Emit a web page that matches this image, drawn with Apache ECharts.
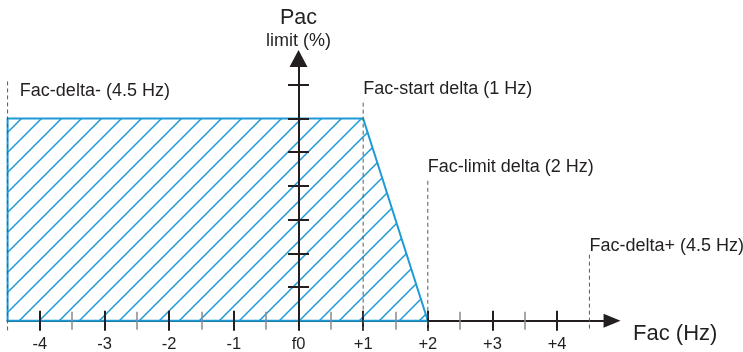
<!DOCTYPE html>
<html><head><meta charset="utf-8">
<script src="https://cdn.jsdelivr.net/npm/echarts@6/dist/echarts.min.js"></script>
<style>html,body{margin:0;padding:0;background:#fff}#c{width:743px;height:352px}</style>
</head><body><div id="c"></div>
<script>
// ---- data ----
const tickValues = [-4, -3, -2, -1, 0, 1, 2, 3, 4];
const tickLabels = ['-4', '-3', '-2', '-1', 'f0', '+1', '+2', '+3', '+4'];
const minorTickValues = [-3.5, -2.5, -1.5, -0.5, 0.5, 1.5, 2.5, 3.5];
const yTickValues = [1, 2, 3, 4, 5, 6, 7];
const regionX = [-4.5, -4.5, 1, 2];
const regionY = [0, 6, 6, 0];
const guideX = [-4.5, 1, 2, 4.5];
const guideTop = [7.1, 6.47, 4.15, 1.96];
const labelTexts = ['Fac-delta- (4.5 Hz)', 'Fac-start delta (1 Hz)', 'Fac-limit delta (2 Hz)', 'Fac-delta+ (4.5 Hz)'];
const labelX = [-4.31, 1, 2, 4.5];
const labelY = [6.64, 6.70, 4.38, 2.04];
const xName = 'Fac (Hz)';
const yNameTop = 'Pac';
const yNameBottom = 'limit (%)';

// ---- style ----
const AX = '#231f20';
const BLUE = '#1e9ad6';
const GUIDE = '#5a5a5a';
const FONT = "'Liberation Sans', Arial, sans-serif";
const X_MIN = -4.5, X_MAX = 4.85, Y_MIN = 0, Y_MAX = 7.78;

function hatchCanvas(color) {
  const s = 20;
  const c = document.createElement('canvas');
  c.width = s; c.height = s;
  const g = c.getContext('2d');
  g.strokeStyle = color; g.lineWidth = 1.5;
  g.beginPath();
  [-s, 0, s].forEach(o => { g.moveTo(o - 1, s + 1); g.lineTo(o + s + 1, -1); });
  g.stroke();
  return c;
}
const hatch = hatchCanvas(BLUE);

const chart = echarts.init(document.getElementById('c'), null, { renderer: 'canvas' });
const baseX = { type: 'value', min: X_MIN, max: X_MAX, position: 'bottom', splitLine: { show: false } };
const baseY = { type: 'value', min: Y_MIN, max: Y_MAX, position: 'left', splitLine: { show: false } };

chart.setOption({
  animation: false,
  textStyle: { fontFamily: FONT },
  grid: { left: 7.58, right: 130.94, top: 58.5, bottom: 31.3, containLabel: false, outerBoundsMode: 'none' },
  xAxis: [
    Object.assign({}, baseX, {
      z: 0,
      axisLine: { onZero: false, lineStyle: { color: AX, width: 2 }, symbol: ['none', 'triangle'], symbolSize: [14, 17] },
      axisTick: { show: false },
      axisLabel: {
        customValues: tickValues,
        formatter: v => { const i = tickValues.indexOf(v); return i >= 0 ? tickLabels[i] : ''; },
        fontSize: 16.5, color: AX, margin: 15.5, fontFamily: FONT
      },
      name: xName, nameLocation: 'end', nameGap: 21,
      nameTextStyle: { fontSize: 22, color: AX, fontFamily: FONT, verticalAlign: 'top', padding: [2, 0, 0, 0] }
    }),
    Object.assign({}, baseX, {
      z: 3, offset: -10,
      axisLine: { show: false, onZero: false },
      axisTick: { customValues: tickValues, length: 20, lineStyle: { color: AX, width: 2 } },
      axisLabel: { show: false }
    }),
    Object.assign({}, baseX, {
      z: 3, offset: -9,
      axisLine: { show: false, onZero: false },
      axisTick: { customValues: minorTickValues, length: 18, lineStyle: { color: '#8a8a8a', width: 1.5 } },
      axisLabel: { show: false }
    })
  ],
  yAxis: [
    Object.assign({}, baseY, {
      z: 3,
      axisLine: { onZero: true, onZeroAxisIndex: 0, lineStyle: { color: AX, width: 2 }, symbol: ['none', 'triangle'], symbolSize: [18, 17] },
      axisTick: { show: false },
      axisLabel: { show: false },
      name: '{a|' + yNameTop + '}\n{b|' + yNameBottom + '}',
      nameLocation: 'end', nameGap: 8,
      nameTextStyle: {
        align: 'center',
        rich: {
          a: { fontSize: 21.5, lineHeight: 27, color: AX, fontFamily: FONT, align: 'center' },
          b: { fontSize: 18, lineHeight: 19, color: AX, fontFamily: FONT, align: 'center' }
        }
      }
    }),
    Object.assign({}, baseY, {
      z: 3,
      axisLine: { show: false, onZero: true, onZeroAxisIndex: 0 },
      axisTick: { customValues: yTickValues, length: 10.5, lineStyle: { color: AX, width: 2 } },
      axisLabel: { show: false }
    }),
    Object.assign({}, baseY, {
      z: 3,
      axisLine: { show: false, onZero: true, onZeroAxisIndex: 0 },
      axisTick: { customValues: yTickValues, inside: true, length: 10.5, lineStyle: { color: AX, width: 2 } },
      axisLabel: { show: false }
    })
  ],
  series: [
    {
      type: 'custom', xAxisIndex: 0, yAxisIndex: 0, z: 2, silent: true, clip: false,
      data: [[regionX[0], regionY[0]]],
      renderItem: (params, api) => {
        const pts = regionX.map((x, i) => api.coord([x, regionY[i]]));
        return {
          type: 'polygon',
          shape: { points: pts },
          style: { fill: { image: hatch, repeat: 'repeat' }, stroke: BLUE, lineWidth: 2, lineJoin: 'miter' }
        };
      }
    },
    {
      type: 'custom', xAxisIndex: 0, yAxisIndex: 0, z: 4, silent: true, clip: false,
      data: guideX.map((x, i) => [x, guideTop[i]]),
      renderItem: (params, api) => {
        const top = api.coord([api.value(0), api.value(1)]);
        const base = api.coord([api.value(0), 0]);
        const ext = params.dataIndex === 0 ? 12 : 10;
        return {
          type: 'line',
          shape: { x1: top[0], y1: top[1], x2: base[0], y2: base[1] + ext },
          style: { stroke: GUIDE, lineWidth: 1, lineDash: [4, 3] }
        };
      }
    },
    {
      type: 'custom', xAxisIndex: 0, yAxisIndex: 0, z: 5, silent: true, clip: false,
      data: labelX.map((x, i) => [x, labelY[i]]),
      renderItem: (params, api) => {
        const p = api.coord([api.value(0), api.value(1)]);
        return {
          type: 'text',
          x: p[0], y: p[1] - 6.3,
          style: { text: labelTexts[params.dataIndex], fontSize: 18, fontFamily: FONT, fill: AX, align: 'left', verticalAlign: 'middle' }
        };
      }
    }
  ]
});
</script>
</body></html>
